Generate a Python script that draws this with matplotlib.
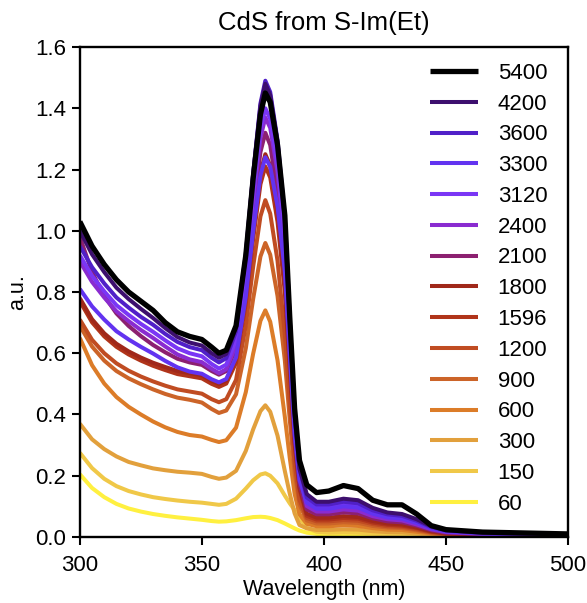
import matplotlib
matplotlib.use("Agg")
import matplotlib.pyplot as plt

plt.rcParams['font.family'] = ['Liberation Sans', 'DejaVu Sans']

wavelength = [300, 305, 310, 315, 320, 325, 330, 335, 340, 345, 350, 354, 357, 360,
              364, 368, 371, 374, 376, 378, 381, 384, 386, 388, 390, 393, 397, 402,
              408, 414, 420, 426, 432, 438, 444, 450, 465, 500]

labels = ["5400", "4200", "3600", "3300", "3120", "2400", "2100", "1800",
          "1596", "1200", "900", "600", "300", "150", "60"]

colors = ["#000000", "#3d0f6e", "#5020c8", "#6233f0", "#7a36f5", "#8a2bd0",
          "#8c2070", "#a0281a", "#b0341a", "#c04c22", "#cc6428", "#dc7c28",
          "#e2a03c", "#f0c848", "#fff040"]

a_5400 = [1.03, 0.95, 0.89, 0.84, 0.80, 0.77, 0.74, 0.70, 0.67, 0.655, 0.645, 0.62, 0.60, 0.61,
          0.69, 0.92, 1.17, 1.38, 1.45, 1.42, 1.28, 1.05, 0.72, 0.42, 0.25, 0.17, 0.145, 0.15,
          0.168, 0.158, 0.12, 0.105, 0.105, 0.075, 0.037, 0.024, 0.016, 0.01]
a_4200 = [1.00, 0.923, 0.865, 0.814, 0.777, 0.745, 0.715, 0.682, 0.653, 0.635, 0.625, 0.60, 0.585, 0.598,
          0.683, 0.925, 1.185, 1.408, 1.48, 1.443, 1.288, 1.036, 0.710, 0.40, 0.222, 0.14, 0.115, 0.115,
          0.125, 0.12, 0.095, 0.08, 0.075, 0.058, 0.035, 0.022, 0.014, 0.008]
a_3600 = [0.95, 0.881, 0.828, 0.782, 0.749, 0.719, 0.693, 0.663, 0.637, 0.62, 0.61, 0.585, 0.57, 0.584,
          0.671, 0.92, 1.186, 1.416, 1.49, 1.453, 1.296, 1.043, 0.715, 0.402, 0.224, 0.129, 0.106, 0.106,
          0.115, 0.110, 0.087, 0.074, 0.069, 0.053, 0.032, 0.021, 0.013, 0.007]
a_3300 = [0.81, 0.753, 0.71, 0.672, 0.645, 0.621, 0.599, 0.575, 0.554, 0.54, 0.533, 0.515, 0.505, 0.516,
          0.586, 0.784, 0.997, 1.181, 1.24, 1.209, 1.079, 0.868, 0.595, 0.335, 0.186, 0.112, 0.092, 0.092,
          0.10, 0.096, 0.076, 0.064, 0.060, 0.046, 0.028, 0.018, 0.011, 0.0065]
a_3120 = [0.92, 0.853, 0.802, 0.757, 0.725, 0.696, 0.67, 0.642, 0.616, 0.60, 0.59, 0.565, 0.55, 0.563,
          0.644, 0.873, 1.12, 1.332, 1.40, 1.365, 1.218, 0.98, 0.672, 0.378, 0.21, 0.118, 0.097, 0.097,
          0.105, 0.101, 0.080, 0.067, 0.063, 0.048, 0.029, 0.019, 0.012, 0.007]
a_2400 = [0.90, 0.833, 0.782, 0.737, 0.705, 0.676, 0.65, 0.622, 0.596, 0.58, 0.571, 0.549, 0.535, 0.548,
          0.627, 0.852, 1.094, 1.303, 1.37, 1.336, 1.192, 0.959, 0.658, 0.37, 0.206, 0.101, 0.083, 0.083,
          0.09, 0.086, 0.068, 0.058, 0.054, 0.041, 0.025, 0.016, 0.010, 0.006]
a_2100 = [0.98, 0.865, 0.787, 0.73, 0.689, 0.656, 0.627, 0.603, 0.582, 0.57, 0.562, 0.542, 0.53, 0.542,
          0.617, 0.83, 1.059, 1.257, 1.32, 1.28, 1.122, 0.871, 0.594, 0.33, 0.172, 0.09, 0.074, 0.074,
          0.08, 0.077, 0.061, 0.051, 0.048, 0.037, 0.022, 0.014, 0.009, 0.005]
a_1800 = [0.78, 0.711, 0.665, 0.631, 0.606, 0.586, 0.569, 0.555, 0.542, 0.535, 0.528, 0.51, 0.50, 0.511,
          0.583, 0.785, 1.003, 1.19, 1.25, 1.213, 1.063, 0.825, 0.563, 0.313, 0.163, 0.076, 0.063, 0.063,
          0.068, 0.065, 0.052, 0.044, 0.041, 0.031, 0.019, 0.012, 0.0075, 0.0044]
a_1596 = [0.77, 0.701, 0.655, 0.621, 0.596, 0.576, 0.559, 0.545, 0.532, 0.525, 0.518, 0.50, 0.49, 0.501,
          0.569, 0.764, 0.972, 1.152, 1.21, 1.174, 1.029, 0.799, 0.545, 0.303, 0.157, 0.069, 0.057, 0.057,
          0.062, 0.060, 0.047, 0.040, 0.037, 0.029, 0.017, 0.011, 0.007, 0.004]
a_1200 = [0.71, 0.644, 0.60, 0.567, 0.543, 0.524, 0.508, 0.494, 0.482, 0.475, 0.468, 0.45, 0.44, 0.45,
          0.513, 0.691, 0.882, 1.047, 1.10, 1.056, 0.902, 0.66, 0.44, 0.242, 0.121, 0.062, 0.051, 0.051,
          0.055, 0.053, 0.042, 0.035, 0.033, 0.025, 0.015, 0.01, 0.006, 0.0036]
a_900 = [0.69, 0.622, 0.576, 0.542, 0.518, 0.499, 0.482, 0.467, 0.455, 0.448, 0.439, 0.418, 0.405, 0.413,
         0.466, 0.616, 0.777, 0.916, 0.96, 0.922, 0.787, 0.576, 0.384, 0.211, 0.106, 0.054, 0.044, 0.044,
         0.048, 0.046, 0.036, 0.031, 0.029, 0.022, 0.013, 0.009, 0.005, 0.003]
a_600 = [0.65, 0.561, 0.501, 0.457, 0.425, 0.40, 0.377, 0.358, 0.343, 0.333, 0.328, 0.317, 0.31, 0.316,
         0.357, 0.473, 0.598, 0.706, 0.74, 0.703, 0.577, 0.392, 0.259, 0.141, 0.074, 0.043, 0.035, 0.035,
         0.038, 0.036, 0.029, 0.024, 0.023, 0.017, 0.011, 0.007, 0.004, 0.0025]
a_300 = [0.37, 0.319, 0.287, 0.263, 0.245, 0.234, 0.224, 0.218, 0.213, 0.21, 0.206, 0.196, 0.19, 0.194,
         0.216, 0.281, 0.351, 0.411, 0.43, 0.409, 0.331, 0.215, 0.142, 0.077, 0.039, 0.028, 0.023, 0.023,
         0.025, 0.024, 0.019, 0.016, 0.015, 0.0115, 0.007, 0.0045, 0.003, 0.002]
a_150 = [0.275, 0.225, 0.19, 0.166, 0.15, 0.139, 0.13, 0.124, 0.119, 0.115, 0.112, 0.108, 0.105, 0.108,
         0.125, 0.158, 0.185, 0.204, 0.208, 0.20, 0.175, 0.135, 0.11, 0.088, 0.062, 0.03, 0.017, 0.014,
         0.015, 0.014, 0.011, 0.009, 0.008, 0.006, 0.004, 0.003, 0.002, 0.001]
a_60 = [0.205, 0.16, 0.13, 0.108, 0.093, 0.083, 0.075, 0.069, 0.064, 0.06, 0.056, 0.052, 0.05, 0.051,
        0.055, 0.061, 0.065, 0.066, 0.065, 0.062, 0.055, 0.044, 0.036, 0.028, 0.021, 0.014, 0.01, 0.008,
        0.008, 0.007, 0.006, 0.005, 0.004, 0.003, 0.002, 0.002, 0.001, 0.001]

series = [a_5400, a_4200, a_3600, a_3300, a_3120, a_2400, a_2100, a_1800,
          a_1596, a_1200, a_900, a_600, a_300, a_150, a_60]

fig = plt.figure(figsize=(5.87, 6.03), dpi=100)
ax = fig.add_axes([0.136, 0.1095, 0.8316, 0.8125])

handles = []
for i in range(len(series) - 1, -1, -1):
    lw = 3.8 if i == 0 else 2.9
    h, = ax.plot(wavelength, series[i], color=colors[i], lw=lw, label=labels[i],
                 solid_capstyle='butt', solid_joinstyle='round')
    handles.append(h)
handles = handles[::-1]

ax.set_xlim(300, 500)
ax.set_ylim(0, 1.6)
ax.set_xticks([300, 350, 400, 450, 500])
ax.set_yticks([0.0, 0.2, 0.4, 0.6, 0.8, 1.0, 1.2, 1.4, 1.6])
ax.yaxis.set_major_formatter(matplotlib.ticker.FormatStrFormatter('%.1f'))
ax.tick_params(axis='x', direction='out', length=6, width=1.5, labelsize=16, pad=7)
ax.tick_params(axis='y', direction='out', length=6, width=1.5, labelsize=16, pad=4)
for s in ax.spines.values():
    s.set_linewidth(1.7)

ax.set_title("CdS from S-Im(Et)", fontsize=18.5, pad=12)
ax.set_xlabel("Wavelength (nm)", fontsize=15.5, labelpad=2)
ax.set_ylabel("a.u.", fontsize=15.5, labelpad=5)

leg = ax.legend(handles=handles, labels=labels, loc='upper right',
                bbox_to_anchor=(0.985, 0.995), frameon=False, fontsize=16,
                handlelength=2.15, handletextpad=0.9, labelspacing=0.44,
                borderaxespad=0.2)

fig.savefig("out.png", dpi=100)
